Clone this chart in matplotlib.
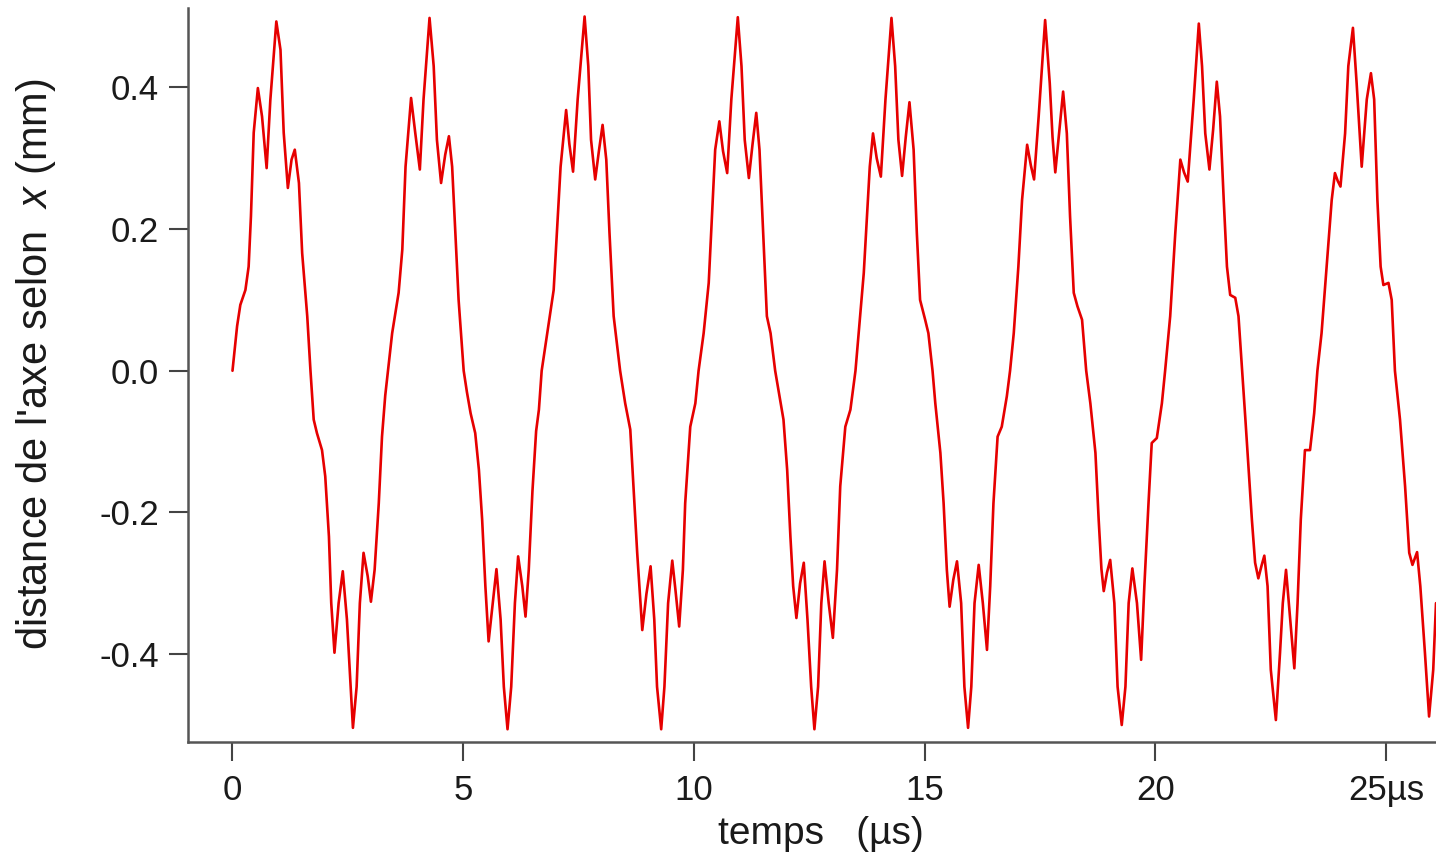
import numpy as np
import matplotlib
matplotlib.use("Agg")
from matplotlib import pyplot as plt

##################################################
# Data: time (us) and position (mm)
# one row per half cycle of the slow oscillation

t_us = [
    0.00, 0.10, 0.17, 0.28, 0.35, 0.40, 0.46, 0.55, 0.64, 0.74, 0.82, 0.95, 1.04, 1.11, 1.20, 1.28, 1.35, 1.44, 1.51, 1.62, 1.69,
    1.76, 1.83, 1.94, 2.01, 2.09, 2.14, 2.21, 2.30, 2.39, 2.48, 2.56, 2.61, 2.69, 2.76, 2.84, 2.93, 3.00, 3.08, 3.17, 3.24, 3.31,
    3.37, 3.46, 3.60, 3.68, 3.75, 3.87, 3.96, 4.06, 4.14, 4.27, 4.36, 4.43, 4.52, 4.61, 4.69, 4.76, 4.83, 4.90, 5.01,
    5.08, 5.16, 5.26, 5.34, 5.41, 5.48, 5.55, 5.64, 5.72, 5.81, 5.88, 5.96, 6.04, 6.12, 6.19, 6.28, 6.35, 6.42, 6.50, 6.58, 6.64,
    6.70, 6.82, 6.96, 7.03, 7.11, 7.23, 7.30, 7.38, 7.48, 7.63, 7.71, 7.77, 7.86, 7.94, 8.02, 8.10, 8.17, 8.26, 8.40,
    8.51, 8.62, 8.69, 8.77, 8.88, 8.97, 9.06, 9.14, 9.20, 9.29, 9.36, 9.44, 9.53, 9.60, 9.68, 9.76, 9.81, 9.92, 10.03,
    10.10, 10.21, 10.32, 10.39, 10.46, 10.55, 10.63, 10.72, 10.81, 10.95, 11.03, 11.10, 11.19, 11.27, 11.35, 11.42, 11.50, 11.58, 11.66, 11.76,
    11.94, 12.02, 12.09, 12.15, 12.22, 12.30, 12.38, 12.46, 12.54, 12.61, 12.69, 12.76, 12.83, 12.92, 13.01, 13.10, 13.17, 13.28, 13.39,
    13.50, 13.57, 13.68, 13.75, 13.81, 13.88, 13.96, 14.05, 14.15, 14.28, 14.36, 14.43, 14.51, 14.59, 14.67, 14.76, 14.83, 14.90, 15.01, 15.08, 15.17,
    15.23, 15.34, 15.41, 15.48, 15.54, 15.62, 15.70, 15.79, 15.86, 15.94, 16.01, 16.08, 16.17, 16.26, 16.35, 16.42, 16.49, 16.58, 16.67, 16.78,
    16.85, 16.93, 17.03, 17.11, 17.22, 17.30, 17.37, 17.47, 17.61, 17.71, 17.77, 17.83, 17.92, 18.00, 18.08, 18.15, 18.23, 18.31, 18.41, 18.50,
    18.59, 18.70, 18.77, 18.83, 18.88, 18.95, 19.02, 19.11, 19.18, 19.27, 19.35, 19.42, 19.50, 19.60, 19.69, 19.76, 19.85, 19.92, 20.03, 20.14,
    20.21, 20.32, 20.43, 20.54, 20.62, 20.70, 20.83, 20.94, 21.01, 21.08, 21.17, 21.25, 21.33, 21.40, 21.48, 21.55, 21.62, 21.73, 21.80, 21.88,
    21.95, 22.02, 22.09, 22.16, 22.23, 22.30, 22.36, 22.43, 22.50, 22.61, 22.70, 22.76, 22.83, 22.92, 23.01, 23.08, 23.15, 23.24, 23.35, 23.44,
    23.51, 23.60, 23.71, 23.82, 23.89, 23.95, 24.01, 24.11, 24.18, 24.28, 24.36, 24.47, 24.58, 24.67, 24.74, 24.81, 24.88, 24.94, 25.05, 25.12, 25.19,
    25.30, 25.41, 25.50, 25.57, 25.67, 25.74, 25.84, 25.93, 26.02, 26.08,
]

x_mm = [
    0.000, 0.063, 0.093, 0.114, 0.147, 0.218, 0.336, 0.399, 0.359, 0.286, 0.382, 0.493, 0.453, 0.336, 0.258, 0.298, 0.312, 0.265, 0.166, 0.077, 0.000,
    -0.069, -0.088, -0.112, -0.149, -0.234, -0.328, -0.398, -0.328, -0.283, -0.351, -0.446, -0.504, -0.446, -0.328, -0.257, -0.290, -0.326, -0.281, -0.187, -0.093, -0.035,
    0.000, 0.053, 0.110, 0.171, 0.288, 0.385, 0.336, 0.284, 0.383, 0.498, 0.430, 0.326, 0.265, 0.305, 0.331, 0.288, 0.194, 0.100, 0.000,
    -0.030, -0.060, -0.088, -0.140, -0.210, -0.304, -0.382, -0.328, -0.280, -0.351, -0.446, -0.506, -0.446, -0.328, -0.262, -0.304, -0.347, -0.281, -0.170, -0.085, -0.055,
    0.000, 0.053, 0.114, 0.194, 0.288, 0.368, 0.320, 0.281, 0.383, 0.500, 0.430, 0.326, 0.270, 0.310, 0.347, 0.298, 0.194, 0.077, 0.000,
    -0.046, -0.083, -0.163, -0.257, -0.366, -0.315, -0.276, -0.351, -0.446, -0.506, -0.446, -0.328, -0.268, -0.310, -0.361, -0.281, -0.187, -0.079, -0.046,
    0.000, 0.053, 0.124, 0.218, 0.312, 0.352, 0.310, 0.279, 0.383, 0.499, 0.430, 0.326, 0.272, 0.320, 0.364, 0.312, 0.194, 0.077, 0.053, 0.000,
    -0.069, -0.140, -0.234, -0.304, -0.349, -0.300, -0.271, -0.351, -0.446, -0.506, -0.446, -0.328, -0.269, -0.328, -0.377, -0.281, -0.163, -0.079, -0.055,
    0.000, 0.053, 0.138, 0.218, 0.288, 0.335, 0.300, 0.274, 0.383, 0.498, 0.430, 0.326, 0.275, 0.330, 0.379, 0.312, 0.194, 0.100, 0.072, 0.053, 0.000,
    -0.046, -0.116, -0.187, -0.281, -0.333, -0.295, -0.269, -0.328, -0.446, -0.504, -0.446, -0.328, -0.274, -0.328, -0.394, -0.304, -0.187, -0.093, -0.079, -0.036,
    0.000, 0.053, 0.147, 0.241, 0.319, 0.290, 0.270, 0.359, 0.495, 0.406, 0.330, 0.280, 0.340, 0.394, 0.335, 0.218, 0.110, 0.091, 0.072, 0.000,
    -0.046, -0.116, -0.210, -0.280, -0.311, -0.285, -0.267, -0.328, -0.446, -0.500, -0.446, -0.328, -0.279, -0.328, -0.408, -0.304, -0.187, -0.102, -0.095, -0.046,
    0.000, 0.077, 0.194, 0.298, 0.280, 0.267, 0.383, 0.490, 0.430, 0.335, 0.284, 0.340, 0.408, 0.359, 0.241, 0.147, 0.107, 0.103, 0.077, 0.000,
    -0.069, -0.140, -0.210, -0.271, -0.293, -0.275, -0.261, -0.304, -0.422, -0.493, -0.398, -0.328, -0.281, -0.351, -0.420, -0.328, -0.210, -0.112, -0.112, -0.060,
    0.000, 0.053, 0.147, 0.241, 0.279, 0.268, 0.260, 0.335, 0.430, 0.484, 0.406, 0.288, 0.383, 0.420, 0.383, 0.241, 0.147, 0.121, 0.124, 0.100, 0.000,
    -0.069, -0.163, -0.257, -0.274, -0.256, -0.304, -0.398, -0.488, -0.422, -0.328,
]

x_ticks = [0, 5, 10, 15, 20, 25]
x_ticklabels = ["0", "5", "10", "15", "20", "25\u00b5s"]
y_ticks = [-0.4, -0.2, 0.0, 0.2, 0.4]
y_ticklabels = ["-0.4", "-0.2", "0.0", "0.2", "0.4"]

##################################################
# Style
plt.rcParams["font.family"] = ["Liberation Sans", "DejaVu Sans"]
plt.rcParams["mathtext.fontset"] = "custom"
plt.rcParams["mathtext.rm"] = "Liberation Sans"
plt.rcParams["mathtext.it"] = "Liberation Sans:italic"

W, H = 1436, 859
fig = plt.figure(figsize=(W / 100, H / 100), dpi=100)
ax = fig.add_axes([188 / W, 117 / H, 1 - 188 / W, 734 / H])

ax.plot(t_us, x_mm, color="#e60000", lw=1.9,
        solid_joinstyle="round", solid_capstyle="round")

ax.set_xlim(-0.964, 26.08)
ax.set_ylim(-0.524, 0.512)

for side in ["top", "right"]:
    ax.spines[side].set_visible(False)
for side in ["left", "bottom"]:
    ax.spines[side].set_color("#555555")
    ax.spines[side].set_linewidth(1.8)

ax.set_xticks(x_ticks)
ax.set_xticklabels(x_ticklabels)
ax.set_yticks(y_ticks)
ax.set_yticklabels(y_ticklabels)
ax.tick_params(axis="both", direction="out", length=14, width=1.5,
               color="#444444", labelcolor="#1a1a1a")
ax.tick_params(axis="x", labelsize=25, pad=9)
ax.tick_params(axis="y", labelsize=25, pad=7)

ax.set_xlabel("temps   (\u00b5s)", fontsize=28, va="center", color="#1a1a1a")
ax.xaxis.set_label_coords((821 - 188) / 1248, (25 - 117) / 734)
ax.set_ylabel("distance de l'axe selon  $x$ (mm)", fontsize=30, va="center",
              color="#1a1a1a")
ax.yaxis.set_label_coords((36 - 188) / 1248, (495 - 117) / 734)

fig.savefig("out.png", dpi=100)
